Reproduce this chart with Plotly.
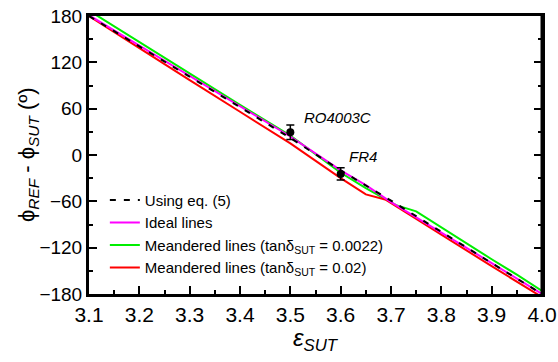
import plotly.graph_objects as go

# ---- data ----
eps_eq5 = [3.1, 3.2, 3.3, 3.4, 3.5, 3.6, 3.7, 3.8, 3.9, 4.0]
phi_eq5 = [180, 141, 102, 62, 22, -20, -59, -100, -140, -180]

eps_ideal = [3.1, 3.2, 3.3, 3.4, 3.5, 3.6, 3.65, 3.7, 3.8, 3.9, 4.0]
phi_ideal = [181, 142, 103, 63, 24, -20, -39, -61, -100, -140, -180]

eps_green = [3.1, 3.2, 3.3, 3.4, 3.5, 3.6, 3.65, 3.7, 3.71, 3.75, 3.8, 3.85, 3.9, 3.95, 4.0]
phi_green = [187, 146, 105, 65, 25, -23, -43, -62, -65, -73, -94, -114, -135, -155, -176]

eps_red = [3.1, 3.2, 3.3, 3.4, 3.5, 3.6, 3.65, 3.69, 3.71, 3.8, 3.9, 4.0]
phi_red = [180, 138, 97, 56, 15, -30, -51, -58, -66, -103, -144, -184]

meas_eps = [3.5, 3.6]
meas_phi = [29.5, -24.5]
meas_err = [9.5, 8.0]
meas_labels = ["RO4003C", "FR4"]
label_eps = [3.523, 3.613]
label_phi = [48, -2]

x_ticks = [3.1, 3.2, 3.3, 3.4, 3.5, 3.6, 3.7, 3.8, 3.9, 4.0]
x_ticktext = ["3.1", "3.2", "3.3", "3.4", "3.5", "3.6", "3.7", "3.8", "3.9", "4.0"]
y_ticks = [-180, -120, -60, 0, 60, 120, 180]

legend_names = ["Using eq. (5)", "Ideal lines",
                "Meandered lines (tanδ<sub>SUT</sub> = 0.0022)",
                "Meandered lines (tanδ<sub>SUT</sub> = 0.02)"]
x_title = "<i>ε</i><sub><i>SUT</i></sub>"
y_title = "ϕ<sub><i>REF</i></sub> - ϕ<sub><i>SUT</i></sub> (º)"

FONT = "Liberation Sans, Arial, sans-serif"

fig = go.Figure()
fig.add_trace(go.Scatter(x=eps_green, y=phi_green, mode="lines", name=legend_names[2],
                         line=dict(color="#00ee00", width=2), legendrank=3))
fig.add_trace(go.Scatter(x=eps_red, y=phi_red, mode="lines", name=legend_names[3],
                         line=dict(color="#ff0000", width=2), legendrank=4))
fig.add_trace(go.Scatter(x=eps_ideal, y=phi_ideal, mode="lines", name=legend_names[1],
                         line=dict(color="#ff00ff", width=2), legendrank=2))
fig.add_trace(go.Scatter(x=eps_eq5, y=phi_eq5, mode="lines", name=legend_names[0],
                         line=dict(color="black", width=2, dash="6px,8px"), legendrank=1))
fig.add_trace(go.Scatter(x=meas_eps, y=meas_phi, mode="markers", showlegend=False,
                         marker=dict(color="black", size=8),
                         error_y=dict(type="data", array=meas_err, color="black",
                                      thickness=1.5, width=4)))
for ex, ey, t in zip(label_eps, label_phi, meas_labels):
    fig.add_annotation(x=ex, y=ey, text="<i>" + t + "</i>", showarrow=False,
                       xanchor="left", yanchor="middle",
                       font=dict(family=FONT, size=15, color="black"))

# axis titles as paper annotations
fig.add_annotation(x=0.5, y=0, xref="paper", yref="paper", text=x_title,
                   showarrow=False, xanchor="center", yanchor="middle", yshift=-45,
                   font=dict(family=FONT, size=24, color="black"))
fig.add_annotation(x=0, y=0.5, xref="paper", yref="paper", text=y_title,
                   showarrow=False, xanchor="center", yanchor="middle", xshift=-61,
                   textangle=-90, font=dict(family=FONT, size=22, color="black"))

# frame on the right side of the plot box
fig.add_shape(type="line", xref="paper", yref="paper", x0=1, x1=1, y0=0, y1=1,
              line=dict(color="black", width=3), layer="above")

fig.update_layout(
    width=558, height=362,
    margin=dict(l=89, r=16, t=16, b=68, autoexpand=False),
    paper_bgcolor="white", plot_bgcolor="white",
    font=dict(family=FONT, color="black"),
    legend=dict(x=0.035, y=0.397, xanchor="left", yanchor="top",
                bgcolor="rgba(0,0,0,0)", font=dict(family=FONT, size=15),
                tracegroupgap=0, itemwidth=30),
)
fig.update_xaxes(
    range=[3.1, 4.0], tickvals=x_ticks, ticktext=x_ticktext, automargin=False,
    showgrid=False, zeroline=False, ticklabeloverflow="allow",
    showline=True, linecolor="black", linewidth=3, mirror=True,
    ticks="inside", ticklen=8, tickwidth=1.5, tickcolor="black",
    minor=dict(dtick=0.05, ticks="inside", ticklen=4, tickwidth=1.5, tickcolor="black"),
    tickfont=dict(family=FONT, size=21),
)
fig.update_yaxes(
    range=[-180, 180], tickvals=y_ticks, automargin=False,
    showgrid=False, zeroline=False, ticklabeloverflow="allow",
    showline=True, linecolor="black", linewidth=3, mirror="ticks",
    ticks="inside", ticklen=8, tickwidth=1.5, tickcolor="black",
    minor=dict(dtick=30, ticks="inside", ticklen=4, tickwidth=1.5, tickcolor="black"),
    tickfont=dict(family=FONT, size=19),
)

# remove the browser's default 8px page margin so the figure fills the window
fig.write_html("out.html", config={"displayModeBar": False},
               post_script="document.body.style.margin='0';document.body.style.overflow='hidden';")
